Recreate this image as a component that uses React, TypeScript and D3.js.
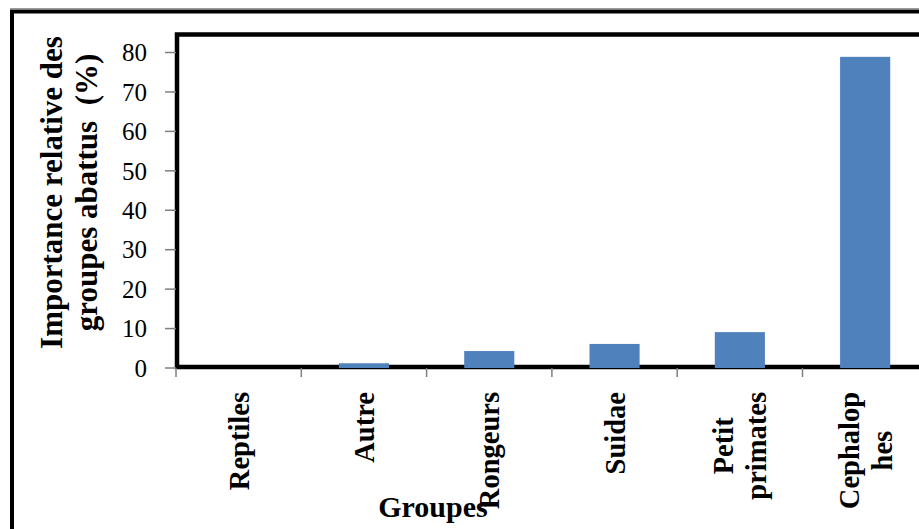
import React, { useEffect, useRef } from "react";
import * as d3 from "d3";

const WIDTH = 919;
const HEIGHT = 529;

const categories = ["Reptiles", "Autre", "Rongeurs", "Suidae", "Petit primates", "Cephalop hes"];
const values = [0, 1.2, 4.3, 6.1, 9.1, 78.9];
const yTicks = [0, 10, 20, 30, 40, 50, 60, 70, 80];
const yTitleLines = ["Importance relative des", "groupes abattus  (%)"];
const xTitle = "Groupes";

const FONT = "'Liberation Serif', 'Times New Roman', serif";
const BAR = "#4F81BD";
const TICK = "#7f7f7f";

export default function App() {
  const ref = useRef<SVGSVGElement | null>(null);

  useEffect(() => {
    const svg = d3.select(ref.current);
    svg.selectAll("*").remove();

    const x0 = 176;
    const step = 125.3;
    const x = d3
      .scaleBand<string>()
      .domain(categories)
      .range([x0, x0 + step * categories.length])
      .paddingInner(0.6)
      .paddingOuter(0.3);
    const y = d3.scaleLinear().domain([0, 80]).range([368, 52.5]);

    // outer frame
    svg.append("line").attr("x1", 10).attr("x2", WIDTH).attr("y1", 8.5).attr("y2", 8.5)
      .attr("stroke", "#9a9a9a").attr("stroke-width", 1);
    svg.append("line").attr("x1", 10).attr("x2", WIDTH).attr("y1", 11.5).attr("y2", 11.5)
      .attr("stroke", "#000").attr("stroke-width", 4);
    svg.append("line").attr("x1", 12).attr("x2", 12).attr("y1", 10).attr("y2", HEIGHT)
      .attr("stroke", "#000").attr("stroke-width", 4);

    // plot area frame
    svg.append("rect")
      .attr("x", 177).attr("y", 34.5)
      .attr("width", 800).attr("height", 367 - 34.5)
      .attr("fill", "none").attr("stroke", "#000").attr("stroke-width", 4.5);

    // bars
    svg.append("g").selectAll("rect").data(values).join("rect")
      .attr("x", (_, i) => x(categories[i])!)
      .attr("width", x.bandwidth())
      .attr("y", (d) => y(d))
      .attr("height", (d) => y(0) - y(d))
      .attr("fill", BAR);

    // y ticks and labels
    const gy = svg.append("g");
    gy.selectAll("line").data(yTicks).join("line")
      .attr("x1", 165).attr("x2", 176)
      .attr("y1", (d) => y(d)).attr("y2", (d) => y(d))
      .attr("stroke", TICK).attr("stroke-width", 1.5);
    gy.selectAll("text").data(yTicks).join("text")
      .attr("x", 147).attr("y", (d) => y(d))
      .attr("dy", "0.35em")
      .attr("text-anchor", "end")
      .attr("font-family", FONT).attr("font-size", 25)
      .text((d) => String(d));

    // x ticks at category boundaries
    const bounds = categories.map((_, i) => x0 + i * x.step());
    svg.append("g").selectAll("line").data(bounds).join("line")
      .attr("x1", (d) => d).attr("x2", (d) => d)
      .attr("y1", 368).attr("y2", 377)
      .attr("stroke", TICK).attr("stroke-width", 1.5);

    // category labels, rotated
    const lineGap = 33;
    const gx = svg.append("g");
    categories.forEach((c) => {
      const lines = c.split(" ");
      const cx = x(c)! + x.bandwidth() / 2;
      const texts = lines.map((ln, i) => {
        const bx = cx + 10 + (i - (lines.length - 1) / 2) * lineGap;
        return gx.append("text")
          .attr("font-family", FONT).attr("font-size", 28.5).attr("font-weight", "bold")
          .attr("text-anchor", "middle")
          .attr("data-bx", bx)
          .text(ln);
      });
      const lens = texts.map((t) => (t.node() as SVGTextElement).getComputedTextLength());
      const maxLen = d3.max(lens) || 0;
      const cy = 392 + maxLen / 2;
      texts.forEach((t) => {
        const bx = +t.attr("data-bx");
        t.attr("transform", `translate(${bx},${cy}) rotate(-90)`);
      });
    });

    // y axis title
    yTitleLines.forEach((ln, i) => {
      svg.append("text")
        .attr("transform", `translate(${62 + i * 35},192.5) rotate(-90)`)
        .attr("text-anchor", "middle")
        .attr("font-family", FONT).attr("font-size", 31).attr("font-weight", "bold")
        .attr("xml:space", "preserve")
        .style("white-space", "pre")
        .text(ln);
    });

    // x axis title
    svg.append("text")
      .attr("x", 433).attr("y", 517)
      .attr("text-anchor", "middle")
      .attr("font-family", FONT).attr("font-size", 30).attr("font-weight", "bold")
      .text(xTitle);
  }, []);

  return (
    <svg
      ref={ref}
      width={WIDTH}
      height={HEIGHT}
      style={{ position: "absolute", left: 0, top: 0, background: "#fff" }}
    />
  );
}
